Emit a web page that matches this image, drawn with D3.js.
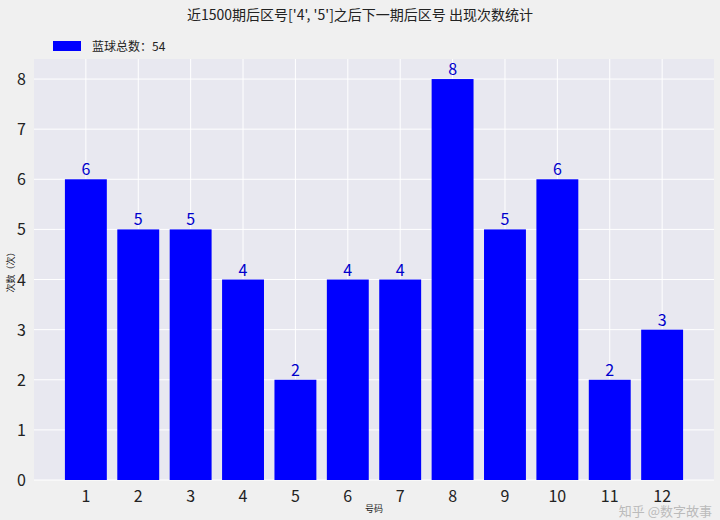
<!DOCTYPE html>
<html><head><meta charset="utf-8">
<script src="https://cdn.jsdelivr.net/npm/d3@7"></script>
<style>body{margin:0;background:#f0f0f0}</style></head>
<body><svg id="c" width="720" height="520"></svg>
<script>
const categories = [1,2,3,4,5,6,7,8,9,10,11,12];
const counts = [6,5,5,4,2,4,4,8,5,6,2,3];
const yTicks = [0,1,2,3,4,5,6,7,8];
const title = "近1500期后区号['4', '5']之后下一期后区号 出现次数统计";
const legendLabel = "蓝球总数：54";
const font = "'Noto Sans CJK SC','DejaVu Sans',sans-serif";

const svg = d3.select("#c");
const L=34, R=714, T=59, B=480;
const x = d3.scaleLinear().domain([0.01,12.99]).range([L,R]);
const y = d3.scaleLinear().domain([0,8.4]).range([B,T]);
svg.append("rect").attr("width",720).attr("height",520).attr("fill","#f0f0f0");
svg.append("rect").attr("x",L).attr("y",T).attr("width",R-L).attr("height",B-T).attr("fill","#e8e8f0");
const g = svg.append("g");
g.selectAll(".vg").data(categories).join("line").attr("x1",d=>x(d)).attr("x2",d=>x(d)).attr("y1",T).attr("y2",B).attr("stroke","#fff").attr("stroke-width",1);
g.selectAll(".hg").data(yTicks).join("line").attr("x1",L).attr("x2",R).attr("y1",d=>y(d)).attr("y2",d=>y(d)).attr("stroke","#fff").attr("stroke-width",1);
g.selectAll(".bar").data(categories).join("rect")
 .attr("x",d=>x(d-0.4)).attr("width",x(0.8)-x(0))
 .attr("y",(d,i)=>y(counts[i])).attr("height",(d,i)=>B-y(counts[i])).attr("fill","#0000ff");
g.selectAll(".lbl").data(categories).join("text")
 .attr("x",d=>x(d)).attr("y",(d,i)=>y(counts[i])-4).attr("text-anchor","middle")
 .attr("font-size",16).attr("font-family",font).attr("fill","#0000cc").text((d,i)=>counts[i]);
g.selectAll(".xt").data(categories).join("text")
 .attr("x",d=>x(d)).attr("y",B+22).attr("text-anchor","middle")
 .attr("font-size",16).attr("font-family",font).attr("fill","#222").text(d=>d);
g.selectAll(".yt").data(yTicks).join("text")
 .attr("x",L-8).attr("y",d=>y(d)+6).attr("text-anchor","end")
 .attr("font-size",16).attr("font-family",font).attr("fill","#222").text(d=>d);
svg.append("text").attr("x",360).attr("y",20).attr("text-anchor","middle").attr("font-size",14).attr("font-family",font).attr("fill","#222").text(title);
svg.append("rect").attr("x",53).attr("y",41).attr("width",28).attr("height",10).attr("fill","#0000ff");
svg.append("text").attr("x",92).attr("y",51).attr("font-size",12).attr("font-family",font).attr("fill","#222").text(legendLabel);
svg.append("text").attr("x",374).attr("y",512).attr("text-anchor","middle").attr("font-size",9).attr("font-family",font).attr("fill","#222").text("号码");
svg.append("text").attr("transform","translate(14,270) rotate(-90)").attr("text-anchor","middle").attr("font-size",9).attr("font-family",font).attr("fill","#222").text("次数（次）");
svg.append("text").attr("x",712).attr("y",516).attr("text-anchor","end").attr("font-size",13).attr("font-family",font).attr("fill","#bbbbbb").text("知乎 @数字故事");
</script></body></html>
